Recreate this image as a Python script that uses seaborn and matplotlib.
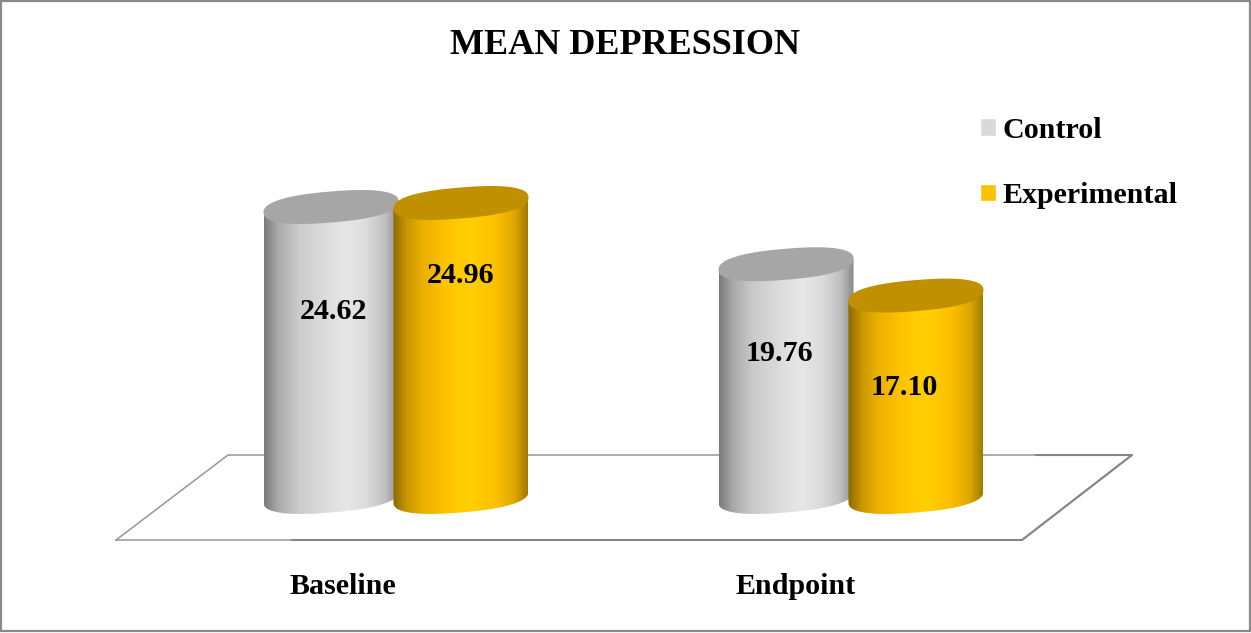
import numpy as np
import pandas as pd
import matplotlib
matplotlib.use("Agg")
import matplotlib.pyplot as plt
import seaborn as sns
from matplotlib.colors import LinearSegmentedColormap
from matplotlib.lines import Line2D
from matplotlib.patches import PathPatch, Polygon, Rectangle
from matplotlib.path import Path
from matplotlib.transforms import IdentityTransform, ScaledTranslation

# Chart values
timepoints = ["Baseline", "Endpoint"]
groups = ["Control", "Experimental"]
control_means = [24.62, 19.76]
experimental_means = [24.96, 17.10]

# Where the value labels sit inside each cylinder: height in data units, sideways nudge in pixels
control_label_heights = [15.78, 12.15]
experimental_label_heights = [18.83, 9.33]
control_label_nudges = [2, -7]
experimental_label_nudges = [0, -12]

W, H = 1251, 633
PX_X0, PX_X1, PX_FLOOR, PX_TOP = 116, 1132, 540, 90
CYL_W, CYL_H, CYL_RISE, CYL_ROUND = 135, 31, 5.5, 2.4

base_colors = {"Control": "#D9D9D9", "Experimental": "#FFC000"}
cap_colors = {"Control": "#A6A6A6", "Experimental": "#C09000"}
shades = {
    "Control": [(0.0, "#7a7a7a"), (0.1, "#a8a8a8"), (0.25, "#cacaca"), (0.5, "#e0e0e0"),
                (0.62, "#e6e6e6"), (0.76, "#dcdcdc"), (0.9, "#c0c0c0"), (1.0, "#8a8a8a")],
    "Experimental": [(0.0, "#8c6a00"), (0.1, "#c89600"), (0.22, "#ecb000"), (0.4, "#ffc400"),
                     (0.58, "#ffd000"), (0.76, "#fdc000"), (0.9, "#e0a800"), (1.0, "#a07c00")],
}

sns.set_style("white")
plt.rcParams["font.family"] = ["Liberation Serif", "DejaVu Serif"]
plt.rcParams["font.weight"] = "bold"
plt.rcParams["text.color"] = "black"
plt.rcParams["xtick.color"] = "black"

fig = plt.figure(figsize=(W / 100, H / 100), dpi=100, facecolor="white")
ax = fig.add_axes([PX_X0 / W, 1 - PX_FLOOR / H, (PX_X1 - PX_X0) / W, (PX_FLOOR - PX_TOP) / H])

df = pd.DataFrame({
    "time": timepoints * 2,
    "group": [groups[0]] * 2 + [groups[1]] * 2,
    "mean": control_means + experimental_means,
})
sns.barplot(data=df, x="time", y="mean", hue="group", order=timepoints, hue_order=groups,
            palette=base_colors, width=0.571, gap=0, saturation=1, ax=ax, errorbar=None)


def set_limits():
    ax.set_xlim(-(396 - PX_X0) / 455, (PX_X1 - 396) / 455)
    ax.set_ylim(-(PX_FLOOR - 497) / 11.78, (497 - PX_TOP) / 11.78)


set_limits()
ax.set_xlabel("")
ax.set_ylabel("")
ax.set_yticks([])
ax.tick_params(axis="x", length=0, pad=24, labelsize=21.6, labelcolor="black")
for s in ax.spines.values():
    s.set_visible(False)
ax.patch.set_alpha(0)

# Category names sit left of the group centres
for lab, dx in zip(ax.get_xticklabels(), (-53, -55)):
    lab.set_transform(lab.get_transform() + ScaledTranslation(dx / 100, 0, fig.dpi_scale_trans))
    lab.set_fontweight("bold")


def end_outline(centre, t):
    """Rounded, rising end of a cylinder at angles t, in display coordinates."""
    a, b = CYL_W / 2, CYL_H / 2
    e = 2 / CYL_ROUND
    cx = np.sign(np.cos(t)) * np.abs(np.cos(t)) ** e
    cy = np.sign(np.sin(t)) * np.abs(np.sin(t)) ** e
    return np.column_stack([centre[0] + a * cx, centre[1] + b * cy + CYL_RISE * cx])


label_heights = control_label_heights + experimental_label_heights
label_nudges = control_label_nudges + experimental_label_nudges
bars = list(ax.containers[0]) + list(ax.containers[1])
for z, idx in enumerate([0, 2, 1, 3]):  # left then right cylinder for each time point
    bar = bars[idx]
    group = df["group"][idx]
    xc = bar.get_x() + bar.get_width() / 2
    value = bar.get_height()
    bottom = ax.transData.transform((xc, 0))
    top = ax.transData.transform((xc, value))

    # Side wall: lower arc of the base joined up to the widest points of the top
    arc = end_outline(bottom, np.linspace(np.pi, 2 * np.pi, 200))
    lift = top - bottom
    wall = np.vstack([arc, arc[-1] + lift, arc[0] + lift, arc[0]])
    clip = PathPatch(Path(wall), transform=IdentityTransform())
    bar.set_clip_path(clip)
    bar.set_zorder(2 + z * 3)

    half = (CYL_W / 2) / 455
    cmap = LinearSegmentedColormap.from_list(group, shades[group])
    im = ax.imshow(np.linspace(0, 1, 256)[None, :], cmap=cmap, aspect="auto", origin="lower",
                   vmin=0, vmax=1, extent=(xc - half, xc + half, -3, value + 3), zorder=3 + z * 3)
    im.set_clip_path(clip)

    outline = end_outline(top, np.linspace(0, 2 * np.pi, 400))
    ax.add_patch(Polygon(outline, closed=True, transform=IdentityTransform(),
                         facecolor=cap_colors[group], edgecolor="none", zorder=4 + z * 3))

    ax.text(xc + label_nudges[idx] / 455, label_heights[idx], f"{value:.2f}",
            ha="center", va="center", fontsize=21.6, fontweight="bold", color="black", zorder=30)

set_limits()


def px(x, y):
    return x / W, 1 - y / H


def figure_line(points, lw, color="#8c8c8c"):
    xy = [px(*p) for p in points]
    fig.add_artist(Line2D([p[0] for p in xy], [p[1] for p in xy], color=color, lw=lw,
                          transform=fig.transFigure, zorder=0))


# Floor of the chart, heavier along its front and right-hand rear edges
figure_line([(116, 540), (1022, 540), (1132, 455), (228, 455), (116, 540)], 1.1, "#969696")
figure_line([(292, 540), (1022, 540), (1132, 455), (1036, 455)], 1.5, "#868686")
ax.set_zorder(1)

# Title, legend and outer border
fig.text(*px(625.5, 45), "MEAN DEPRESSION", ha="center", va="center", fontsize=26,
         fontweight="bold", color="black")

handles, labels = ax.get_legend_handles_labels()
leg = ax.legend(handles, labels, loc="upper left", bbox_to_anchor=px(980, 117),
                bbox_transform=fig.transFigure, frameon=False,
                prop={"weight": "bold", "size": 21.6}, handlelength=0.54, handleheight=0.54,
                handletextpad=0.2, labelspacing=1.27, borderpad=0, borderaxespad=0,
                labelcolor="black")
leg.set_zorder(40)

x0, y0 = px(1, 630.5)
x1, y1 = px(1250, 1)
fig.add_artist(Rectangle((x0, y0), x1 - x0, y1 - y0, transform=fig.transFigure, fill=False,
                         edgecolor="#8a8a8a", lw=1.6))

fig.savefig("out.png", dpi=100, facecolor="white")
